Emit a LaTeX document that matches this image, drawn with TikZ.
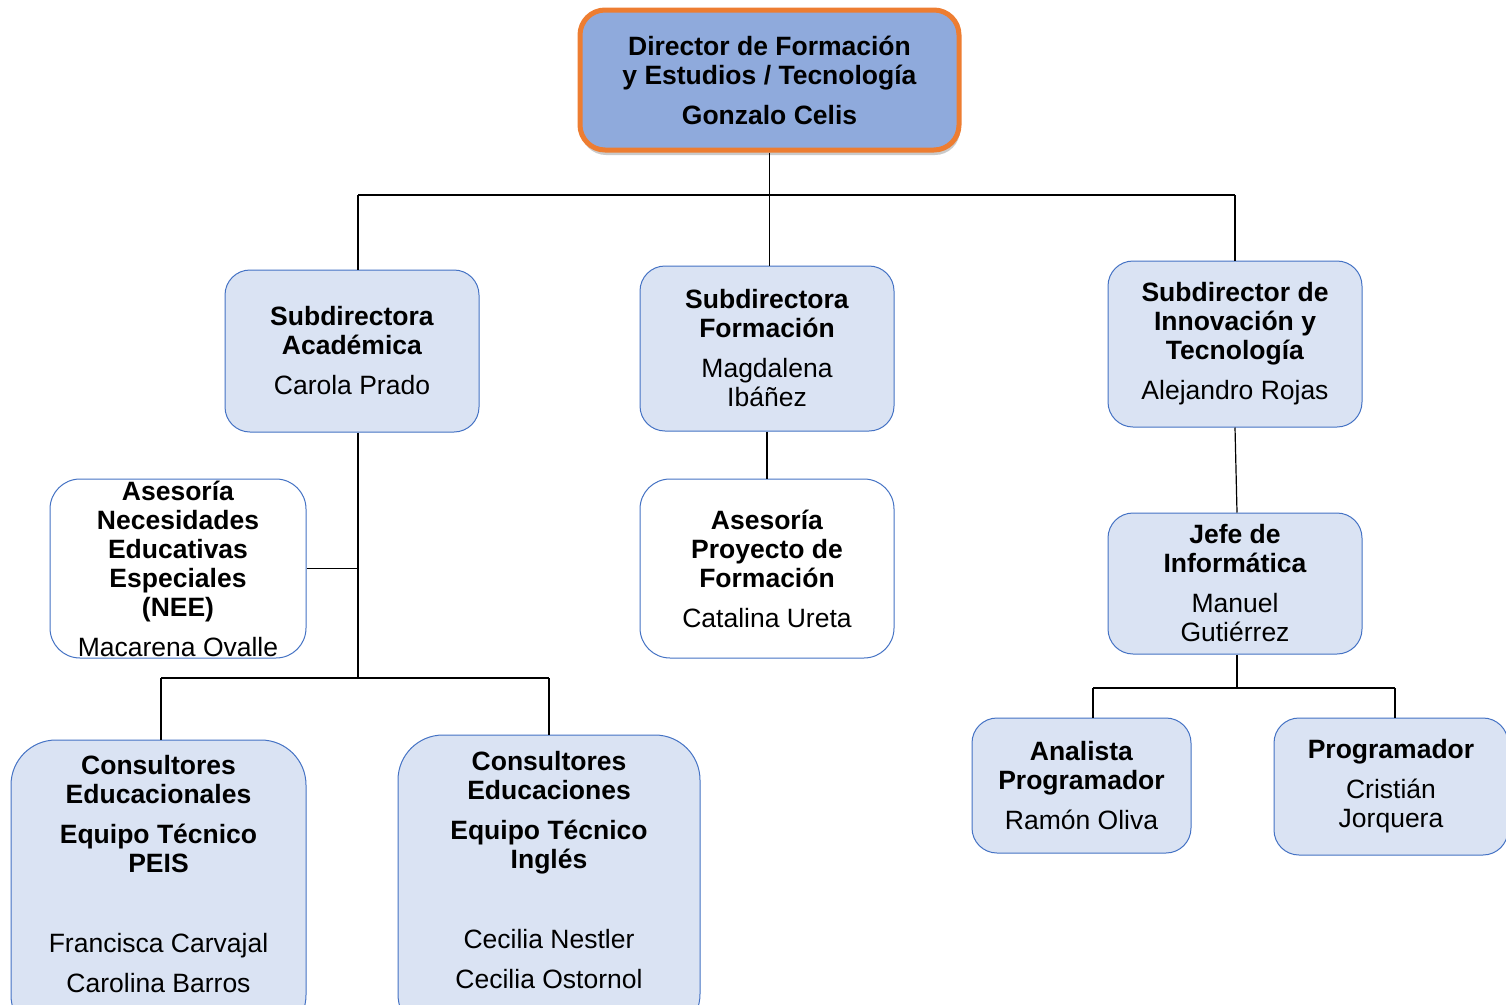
\documentclass[tikz,border=0pt]{standalone}
\usepackage{fontspec}
\setmainfont{Liberation Sans}
\usetikzlibrary{shadows}
\definecolor{topfill}{HTML}{8FAADC}
\definecolor{orangeb}{HTML}{ED7D31}
\definecolor{lightblue}{HTML}{DAE3F3}
\definecolor{boxblue}{HTML}{4472C4}
\tikzset{
  box/.style={draw=boxblue, line width=1pt, fill=lightblue, rounded corners=25pt,
    align=center, inner sep=0pt, font=\fontsize{26.5}{29}\selectfont},
  wbox/.style={box, fill=white},
  topbox/.style={box, draw=orangeb, line width=5pt, fill=topfill,
    drop shadow={shadow xshift=1pt, shadow yshift=-5pt, opacity=0.35, fill=black!60}},
  conn/.style={draw=black, line width=1.2pt},
  txt/.style={align=center, inner sep=0pt, font=\fontsize{26.5}{29}\selectfont}
}
\begin{document}
\begin{tikzpicture}[x=1pt,y=-1pt]
\useasboundingbox (0,0) rectangle (1506,1004);
\clip (0,0) rectangle (1506,1004);
% top
\node[topbox, minimum width=379pt, minimum height=140pt] (top) at (769.5,80)
  {\textbf{Director de Formación}\\\textbf{y Estudios / Tecnología}\\[11pt]\textbf{Gonzalo Celis}};
% level 2
\node[box, minimum width=254pt, minimum height=162pt] (sa) at (352,351)
  {\textbf{Subdirectora}\\\textbf{Académica}\\[11pt]Carola Prado};
\node[box, minimum width=254pt, minimum height=165pt] (sf) at (767,348.5)
  {\textbf{Subdirectora}\\\textbf{Formación}\\[11pt]Magdalena\\Ibáñez};
\node[box, minimum width=254pt, minimum height=166pt] (si) at (1235,344)
  {\textbf{Subdirector de}\\\textbf{Innovación y}\\\textbf{Tecnología}\\[11pt]Alejandro Rojas};
% level 3
\node[wbox, rounded corners=30pt, minimum width=256pt, minimum height=179pt] (nee) at (178,568.5)
  {\textbf{Asesoría}\\\textbf{Necesidades}\\\textbf{Educativas}\\\textbf{Especiales}\\\textbf{(NEE)}\\[11pt]Macarena Ovalle};
\node[wbox, rounded corners=30pt, minimum width=254pt, minimum height=179pt] (ap) at (767,568.5)
  {\textbf{Asesoría}\\\textbf{Proyecto de}\\\textbf{Formación}\\[11pt]Catalina Ureta};
\node[box, minimum width=254pt, minimum height=141pt] (ji) at (1235,583.5)
  {\textbf{Jefe de}\\\textbf{Informática}\\[11pt]Manuel\\Gutiérrez};
% level 4
\node[box, rounded corners=45pt, minimum width=295pt, minimum height=300pt] (c1) at (158.5,890) {};
\node[txt, anchor=north] (c1t) at (158.5,755)
  {\textbf{Consultores}\\\textbf{Educacionales}\\[11pt]\textbf{Equipo Técnico}\\\textbf{PEIS}\\[51pt]Francisca Carvajal\\[11pt]Carolina Barros};
\node[box, rounded corners=45pt, minimum width=302pt, minimum height=304pt] (c2) at (549,887) {};
\node[txt, anchor=north] (c2t) at (549,751)
  {\textbf{Consultores}\\\textbf{Educaciones}\\[11pt]\textbf{Equipo Técnico}\\\textbf{Inglés}\\[51pt]Cecilia Nestler\\[11pt]Cecilia Ostornol};
\node[box, minimum width=219pt, minimum height=135pt] (an) at (1081.5,785.5)
  {\textbf{Analista}\\\textbf{Programador}\\[11pt]Ramón Oliva};
\node[box, minimum width=234pt, minimum height=137pt] (pr) at (1391,786.5)
  {\textbf{Programador}\\[11pt]Cristián\\Jorquera};
% connectors
\coordinate (jl) at (358,195);
\coordinate (jr) at (1235,195);
\coordinate (jc) at (358,678);
\coordinate (jc1) at (161,678);
\coordinate (jc2) at (549,678);
\coordinate (ja) at (1093,688);
\coordinate (jp) at (1395,688);
\begin{scope}[on background layer/.style={}]
\draw[conn] (top.south) -- (top.south |- sf.north);
\draw[conn] (jl) -- (jr);
\draw[conn] (jl) -- (jl |- sa.north);
\draw[conn] (jr) -- (si.north);
\draw[conn] (sa.south -| jc) -- (jc);
\draw[conn] (nee.east) -- (nee.east -| jc);
\draw[conn] (jc1) -- (jc2);
\draw[conn] (jc1) -- (jc1 |- c1.north);
\draw[conn] (jc2) -- (c2.north);
\draw[conn] (sf.south) -- (ap.north);
\draw[conn] (si.south) -- ([xshift=2pt]ji.north);
\draw[conn] ([xshift=2pt]ji.south) -- ([xshift=2pt]ji.south |- ja);
\draw[conn] (ja) -- (jp);
\draw[conn] (ja) -- (ja |- an.north);
\draw[conn] (jp) -- (jp |- pr.north);
\end{scope}
\end{tikzpicture}
\end{document}
